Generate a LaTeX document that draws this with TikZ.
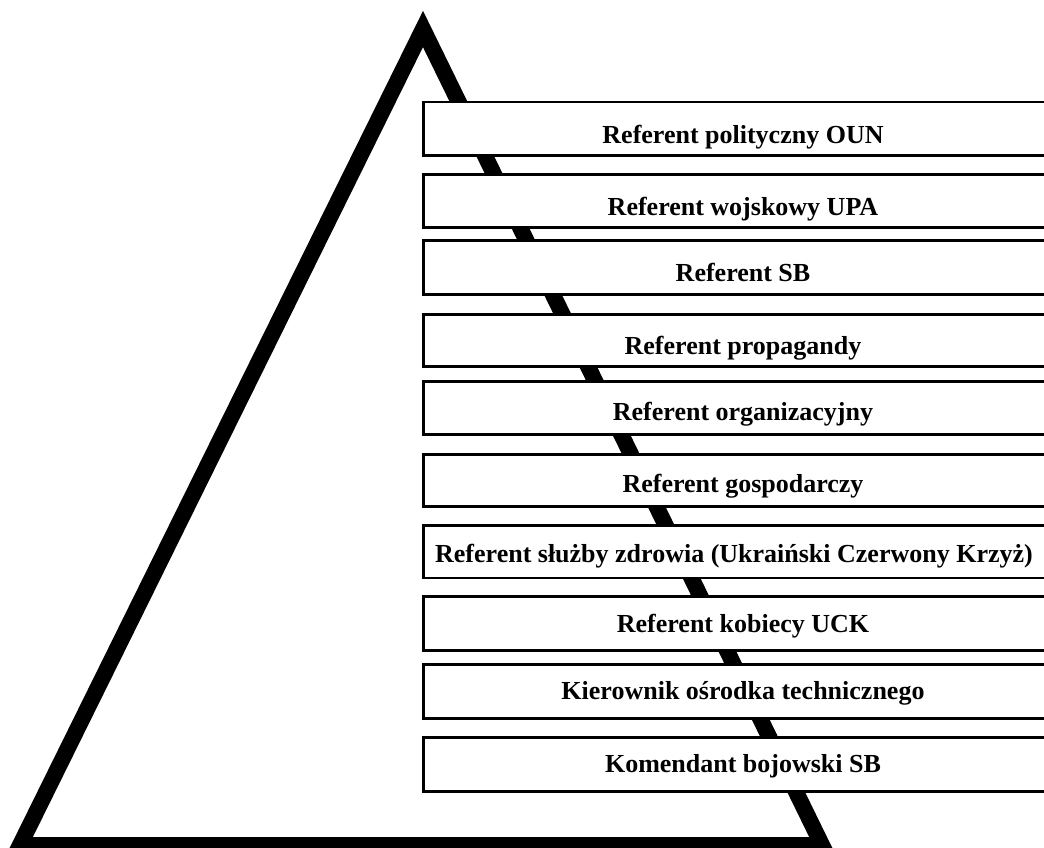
\documentclass[tikz,border=0pt]{standalone}
\usepackage{fontspec}
\setmainfont{Liberation Serif}
\begin{document}
\begin{tikzpicture}[x=1pt,y=-1pt,
  box/.style={draw=black, line width=2.8pt, fill=white, inner sep=0pt, anchor=north west, minimum width=660pt},
  lbl/.style={anchor=base, font=\bfseries\fontsize{26}{30}\selectfont, text=black, inner sep=0pt},
  frame/.style={line width=16pt, line join=miter, draw=black}]
\useasboundingbox (0,0) rectangle (1044,848);
\coordinate (A) at (423,29);
\coordinate (B) at (20,845);
\coordinate (C) at (822,845);
\draw[frame] (A) -- (B) -- (C) -- cycle;

\node[box, minimum height=53.8pt] (b1) at (421.7,100.7) {};
\node[box, minimum height=53.6pt] (b2) at (421.7,172.7) {};
\node[box, minimum height=54pt] (b3) at (421.7,239.3) {};
\node[box, minimum height=52pt] (b4) at (421.7,313.3) {};
\node[box, minimum height=53.3pt] (b5) at (421.7,380) {};
\node[box, minimum height=52pt] (b6) at (421.7,453.3) {};
\node[box, minimum height=52.2pt] (b7) at (421.7,524.3) {};
\node[box, minimum height=53.4pt] (b8) at (421.7,595.3) {};
\node[box, minimum height=53.7pt] (b9) at (421.7,663.3) {};
\node[box, minimum height=53.7pt] (b10) at (421.7,736.3) {};

\node[lbl] (t1) at (743,143.7) {Referent polityczny OUN};
\node[lbl] (t2) at (743,215) {Referent wojskowy UPA};
\node[lbl] (t3) at (743,281) {Referent SB};
\node[lbl] (t4) at (743,354.3) {Referent propagandy};
\node[lbl] (t5) at (743,420.3) {Referent organizacyjny};
\node[lbl] (t6) at (743,492.9) {Referent gospodarczy};
\node[lbl] (t7) at (734,562.3) {Referent służby zdrowia (Ukraiński Czerwony Krzyż)};
\node[lbl] (t8) at (743,632.6) {Referent kobiecy UCK};
\node[lbl] (t9) at (743,699.3) {Kierownik ośrodka technicznego};
\node[lbl] (t10) at (743,772.3) {Komendant bojowski SB};
\end{tikzpicture}
\end{document}
